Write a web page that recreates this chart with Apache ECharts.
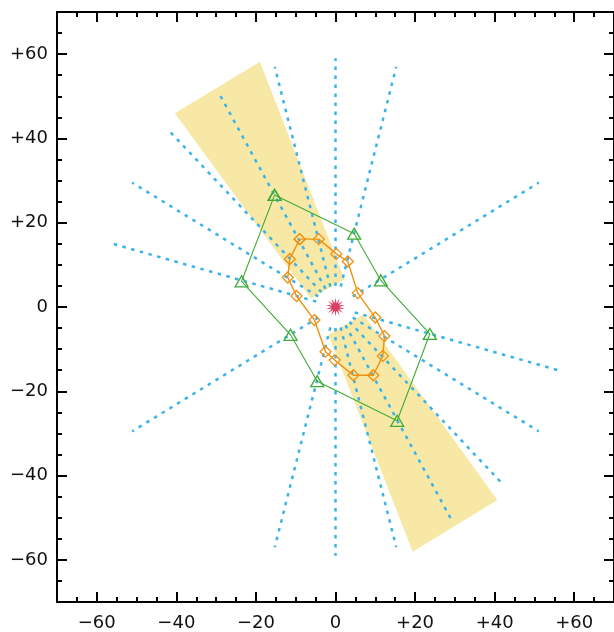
<!DOCTYPE html>
<html>
<head>
<meta charset="utf-8">
<script src="https://cdn.jsdelivr.net/npm/echarts@6/dist/echarts.min.js"></script>
<style>
  html, body { margin: 0; padding: 0; background: #fff; }
  #chart { width: 614px; height: 632px; }
</style>
</head>
<body>
<div id="chart"></div>
<script>
// 축 눈금 (주 눈금)
const majorTicks = [-60, -40, -20, 0, 20, 40, 60];

// 점선 광선 방향(도)과 반지름
const rayAngles = [30, 75, 90, 105, 120, 135, 150, 165, 210, 255, 270, 285, 300, 315, 330, 345];
const rayInner = 5;
const rayOuter = 59;

// 노란 띠 두 개
const bandUpper = [[-40.4, 46.0], [-19.0, 58.2], [2.3, 6.5], [-6.2, 2.0]];
const bandLower = [[40.7, -45.8], [19.4, -58.1], [-1.8, -6.6], [7.0, -1.8]];

// 초록 삼각형 다각형
const greenPts = [
  [-15.3, 26.6], [4.7, 17.4], [11.4, 6.3], [23.7, -6.4],
  [15.5, -27.0], [-4.6, -17.6], [-11.3, -6.6], [-23.6, 6.1], [-15.3, 26.6]
];

// 주황 다이아몬드 다각형
const orangePts = [
  [-9.0, 16.1], [-4.2, 16.1], [0.2, 12.6], [3.1, 10.8], [5.6, 3.3],
  [10.0, -2.5], [12.3, -6.9], [11.9, -11.6], [9.5, -16.2], [4.5, -16.2],
  [-0.2, -12.6], [-2.5, -10.6], [-5.3, -3.1], [-9.8, 2.6], [-12.0, 7.0],
  [-11.5, 11.4], [-9.0, 16.1]
];

// 중심 별
const centerPt = [[0, 0]];

const bands = [bandUpper, bandLower];
const rays = rayAngles.map((a) => {
  const t = (a * Math.PI) / 180;
  return [rayInner * Math.cos(t), rayInner * Math.sin(t), rayOuter * Math.cos(t), rayOuter * Math.sin(t)];
});

// 별 모양 심볼
function starPath(n, rIn) {
  let d = '';
  for (let i = 0; i < n * 2; i++) {
    const r = i % 2 === 0 ? 1 : rIn;
    const t = (Math.PI * i) / n - Math.PI / 2;
    d += (i === 0 ? 'M' : 'L') + (r * Math.cos(t)).toFixed(3) + ' ' + (r * Math.sin(t)).toFixed(3);
  }
  return 'path://' + d + 'Z';
}

const fontFamily = 'DejaVu Sans';
const fmt = (v) => (v > 0 ? '+' + v : v < 0 ? '\u2212' + Math.abs(v) : '0');

function makeAxis(position, major, showLabel) {
  const ax = {
    type: 'value',
    min: -70,
    max: 70,
    position: position,
    splitLine: { show: false },
    axisLine: { show: major, onZero: false, lineStyle: { color: '#000', width: 2 } },
    axisTick: {
      show: true,
      inside: true,
      length: major ? 10 : 5,
      lineStyle: { color: '#000', width: 2 },
    },
    axisLabel: { show: false },
  };
  if (major) {
    ax.axisTick.customValues = majorTicks;
    ax.axisLabel = {
      show: showLabel,
      customValues: majorTicks,
      formatter: fmt,
      fontFamily: fontFamily,
      fontSize: 18,
      color: '#111',
      margin: position === 'bottom' ? 12 : 9,
    };
  } else {
    ax.interval = 5;
  }
  return ax;
}

const chart = echarts.init(document.getElementById('chart'));

const option = {
  animation: false,
  grid: { left: 57, right: -3, top: 12, bottom: 30, containLabel: false },
  xAxis: [
    makeAxis('bottom', true, true),
    makeAxis('bottom', false, false),
    makeAxis('top', true, false),
    makeAxis('top', false, false),
  ],
  yAxis: [
    makeAxis('left', true, true),
    makeAxis('left', false, false),
    makeAxis('right', true, false),
    makeAxis('right', false, false),
  ],
  series: [
    {
      type: 'custom',
      z: 1,
      silent: true,
      data: bands.map((b) => b[0]),
      renderItem: (params, api) => ({
        type: 'polygon',
        shape: { points: bands[params.dataIndex].map((p) => api.coord(p)) },
        style: { fill: '#f7e8a6' },
      }),
    },
    {
      type: 'custom',
      z: 2,
      silent: true,
      data: rays,
      encode: { x: [0, 2], y: [1, 3] },
      renderItem: (params, api) => {
        const p1 = api.coord([api.value(0), api.value(1)]);
        const p2 = api.coord([api.value(2), api.value(3)]);
        return {
          type: 'line',
          shape: { x1: p1[0], y1: p1[1], x2: p2[0], y2: p2[1] },
          style: { stroke: '#3ab3ea', lineWidth: 2.5, lineDash: [3.5, 5.5] },
        };
      },
    },
    {
      type: 'line',
      z: 3,
      data: greenPts,
      symbol: 'triangle',
      symbolSize: [13, 11],
      showAllSymbol: true,
      itemStyle: { color: 'rgba(255,255,255,0)', borderColor: '#3fab36', borderWidth: 1.3 },
      lineStyle: { color: '#3fab36', width: 1.1 },
      emphasis: { disabled: true },
    },
    {
      type: 'line',
      z: 4,
      data: orangePts,
      symbol: 'diamond',
      symbolSize: 11,
      showAllSymbol: true,
      itemStyle: { color: 'rgba(255,255,255,0)', borderColor: '#f0900f', borderWidth: 1.3 },
      lineStyle: { color: '#f0900f', width: 1.4 },
      emphasis: { disabled: true },
    },
    {
      type: 'scatter',
      z: 5,
      data: centerPt,
      symbol: starPath(14, 0.4),
      symbolSize: 19,
      itemStyle: { color: '#d0103a' },
      emphasis: { disabled: true },
    },
  ],
};

chart.setOption(option);
</script>
</body>
</html>
